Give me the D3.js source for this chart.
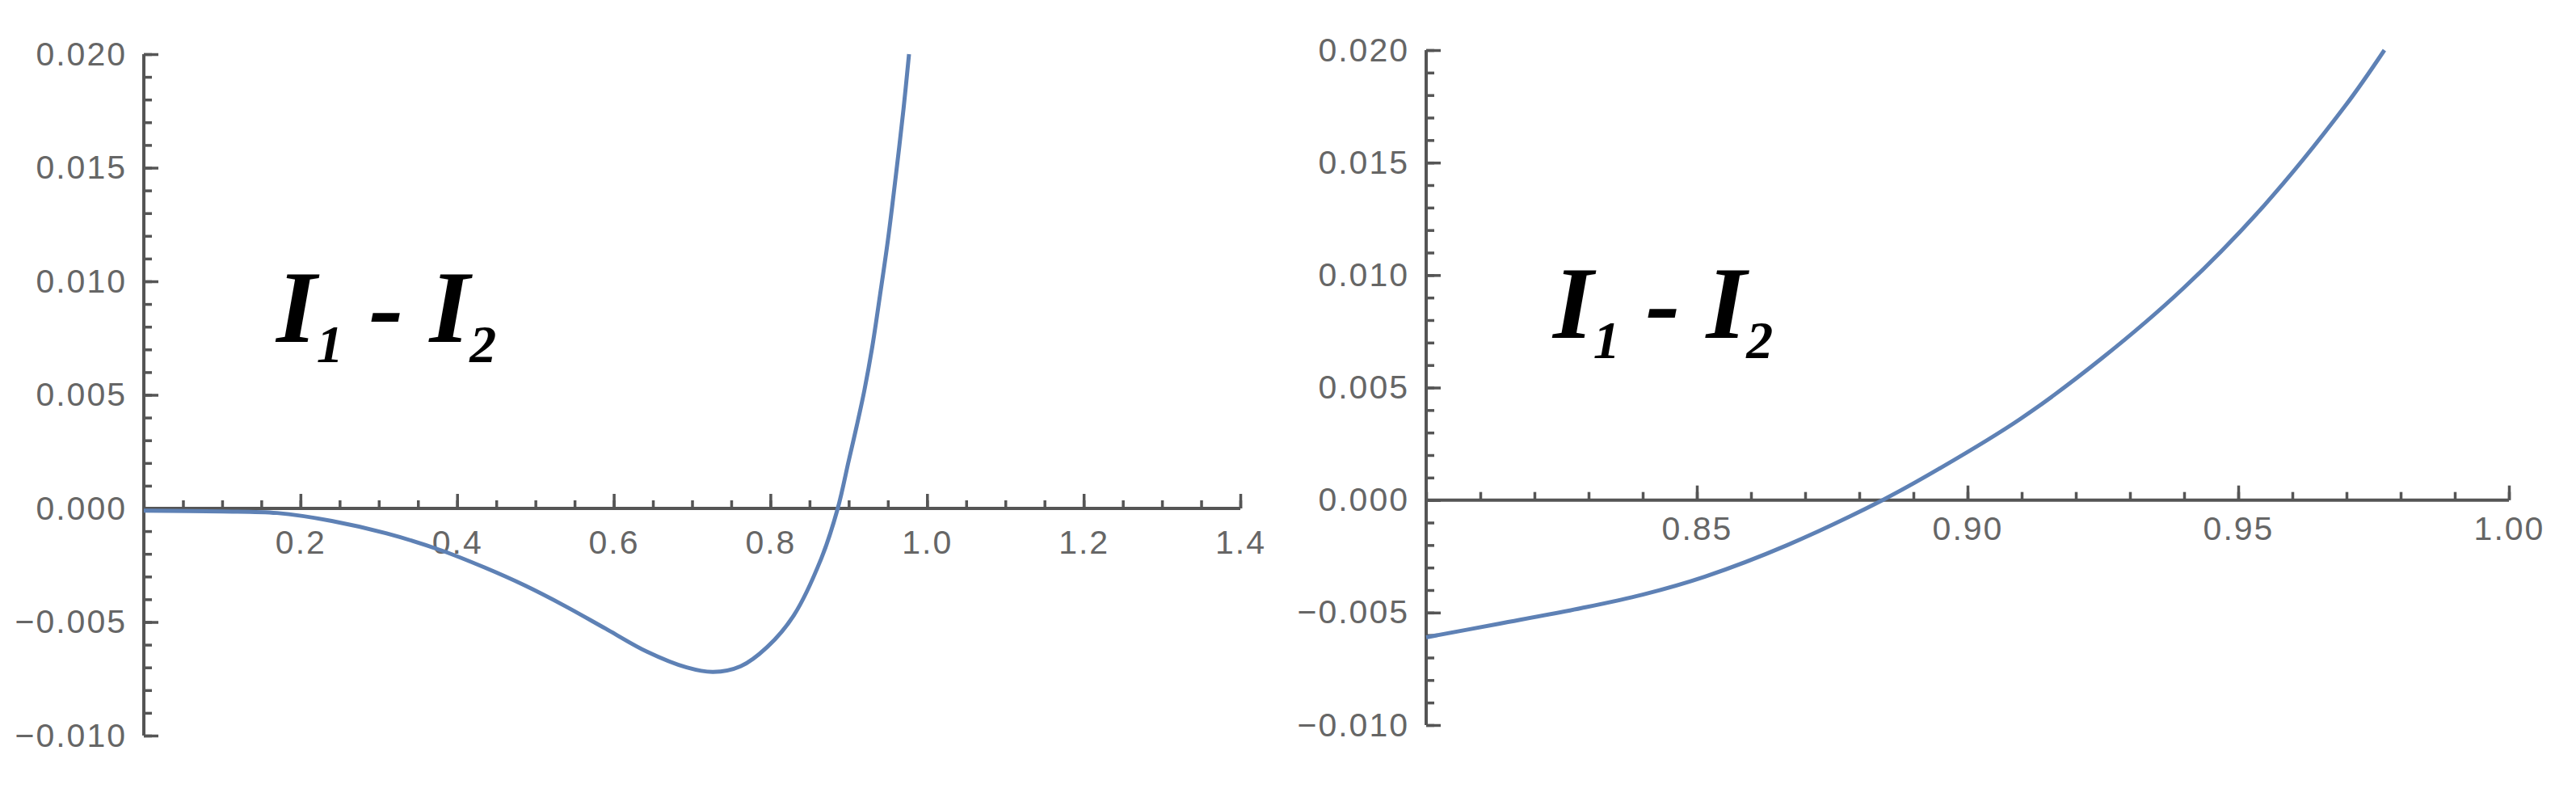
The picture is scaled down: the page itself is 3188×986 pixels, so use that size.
<!DOCTYPE html>
<html>
<head>
<meta charset="utf-8">
<script src="https://cdn.jsdelivr.net/npm/d3@7"></script>
<style>
  body { margin: 0; background: #fff; }
  .tick text { font-family: "Liberation Sans", Arial, sans-serif; fill: #666; }
</style>
</head>
<body>
<script>
// left panel: whole curve
const leftX = [0, 0.10, 0.17, 0.24, 0.31, 0.38, 0.435, 0.487, 0.538, 0.59, 0.642,
  0.693, 0.727, 0.762, 0.796, 0.83, 0.865, 0.886, 0.90, 0.91, 0.92, 0.93, 0.94, 0.95, 0.96, 0.97, 0.977]
const leftY = [-0.0001, -0.00013, -0.0002, -0.00055, -0.0011, -0.00185, -0.0026, -0.0034, -0.0043, -0.0053, -0.0063,
  -0.0070, -0.0072, -0.00695, -0.0061, -0.0047, -0.0022, 0, 0.0021, 0.0036, 0.0052, 0.0071, 0.0094, 0.0118, 0.0146, 0.0176, 0.0200]

// right panel: zoom near the root
const rightX = [0.800, 0.8134, 0.8287, 0.840, 0.8515, 0.8667, 0.8843, 0.8948, 0.9097, 0.9248, 0.9398, 0.9548, 0.9697, 0.977]
const rightY = [-0.0061, -0.0055, -0.0048, -0.0042, -0.0034, -0.0020, 0.0, 0.0014, 0.0036, 0.0063, 0.0094, 0.0131, 0.0175, 0.0200]

const leftXTicks = [0.2, 0.4, 0.6, 0.8, 1.0, 1.2, 1.4]
const rightXTicks = [0.85, 0.90, 0.95, 1.00]
const yTicks = [-0.010, -0.005, 0.000, 0.005, 0.010, 0.015, 0.020]

const label = ["I", "1", " - ", "I", "2"]

const W = 3188, H = 986
const svg = d3.select("body").append("svg")
  .attr("width", W)
  .attr("height", H)

function panel(cfg) {
  const x = d3.scaleLinear().domain(cfg.xDomain).range([cfg.x0, cfg.x1])
  const y = d3.scaleLinear().domain([-0.01, 0.02]).range([cfg.yBot, cfg.yTop])
  const g = svg.append("g")

  // minor ticks
  g.append("g")
    .attr("transform", "translate(0," + y(0) + ")")
    .call(d3.axisBottom(x).tickValues(d3.range(cfg.xDomain[0], cfg.xDomain[1] + 1e-9, cfg.xMinor))
      .tickSize(-10).tickFormat(""))
    .call(a => a.select(".domain").remove())
  g.append("g")
    .attr("transform", "translate(" + x(cfg.xDomain[0]) + ",0)")
    .call(d3.axisLeft(y).tickValues(d3.range(-0.01, 0.02 + 1e-9, 0.001))
      .tickSize(-10).tickFormat(""))
    .call(a => a.select(".domain").remove())

  // major ticks + labels
  const xa = g.append("g")
    .attr("transform", "translate(0," + y(0) + ")")
    .call(d3.axisBottom(x).tickValues(cfg.xTicks).tickSize(-18).tickSizeOuter(0)
      .tickPadding(cfg.xPad).tickFormat(d3.format(cfg.xFmt)))
  xa.select(".domain").remove()

  const ya = g.append("g")
    .attr("transform", "translate(" + x(cfg.xDomain[0]) + ",0)")
    .call(d3.axisLeft(y).tickValues(yTicks).tickSize(-18).tickSizeOuter(0)
      .tickPadding(21).tickFormat(d3.format(".3f")))
  ya.select(".domain").remove()

  g.selectAll(".tick line").attr("stroke", "#555").attr("stroke-width", 3.5)
  g.selectAll(".tick text").attr("font-size", 41).style("letter-spacing", "2px")

  // axis lines
  g.append("line")
    .attr("x1", x(cfg.xDomain[0])).attr("x2", x(cfg.xDomain[1]))
    .attr("y1", y(0)).attr("y2", y(0))
    .attr("stroke", "#555").attr("stroke-width", 4)
  g.append("line")
    .attr("x1", x(cfg.xDomain[0])).attr("x2", x(cfg.xDomain[0]))
    .attr("y1", y(0.02)).attr("y2", y(-0.01))
    .attr("stroke", "#555").attr("stroke-width", 4)

  // curve
  const line = d3.line()
    .x((d, i) => x(cfg.xs[i]))
    .y(d => y(d))
    .curve(d3.curveCatmullRom.alpha(0.5))
  g.append("path")
    .datum(cfg.ys)
    .attr("d", line)
    .attr("fill", "none")
    .attr("stroke", "#5E81B5")
    .attr("stroke-width", 5)

  // I1 - I2 label
  const t = g.append("text")
    .attr("x", cfg.labelX)
    .attr("y", cfg.labelY)
    .attr("font-family", "'Liberation Serif', 'Times New Roman', serif")
    .attr("font-style", "italic")
    .attr("font-weight", "bold")
    .attr("font-size", 128)
    .attr("fill", "#000")
    .style("white-space", "pre")
  t.append("tspan").text(label[0])
  t.append("tspan").attr("font-size", 66).attr("dy", 25).text(label[1])
  t.append("tspan").attr("dy", -25).text(label[2])
  t.append("tspan").text(label[3])
  t.append("tspan").attr("font-size", 66).attr("dy", 25).text(label[4])
}

panel({
  xDomain: [0, 1.4], x0: 178, x1: 1535, yTop: 67, yBot: 910,
  xTicks: leftXTicks, xMinor: 0.05, xFmt: ".1f", xPad: 27,
  xs: leftX, ys: leftY, labelX: 342, labelY: 423
})

panel({
  xDomain: [0.8, 1.0], x0: 1765, x1: 3105, yTop: 62, yBot: 897,
  xTicks: rightXTicks, xMinor: 0.01, xFmt: ".2f", xPad: 20,
  xs: rightX, ys: rightY, labelX: 1922, labelY: 418
})
</script>
</body>
</html>
